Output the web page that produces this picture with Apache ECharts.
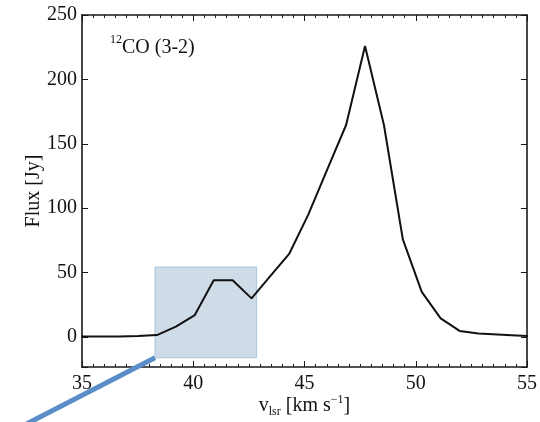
<!DOCTYPE html>
<html>
<head>
<meta charset="utf-8">
<script src="https://cdn.jsdelivr.net/npm/echarts@6/dist/echarts.min.js"></script>
<style>
  html, body { margin: 0; padding: 0; background: #ffffff; }
  #chart { width: 540px; height: 422px; }
</style>
</head>
<body>
<div id="chart"></div>
<script>
// ---- data ----
const velocity = [34.97, 35.82, 36.67, 37.52, 38.37, 39.22, 40.07, 40.92, 41.77, 42.62, 43.47, 44.32, 45.17, 46.02, 46.87, 47.72, 48.57, 49.42, 50.27, 51.12, 51.97, 52.82, 53.67, 54.52, 55.37];
const flux = [0.3, 0.3, 0.4, 0.7, 1.5, 8, 17, 44, 44, 30, 47.5, 64.8, 95, 130, 164.6, 226, 164.6, 75.8, 35, 14.5, 4.7, 2.8, 2.0, 1.2, 0.4];
const xTicks = [35, 40, 45, 50, 55];
const yTicks = [0, 50, 100, 150, 200, 250];
const xRange = [35, 55];
const yRange = [-23.3, 250];
const highlightVelocity = [38.28, 42.85];
const highlightFlux = [-16.1, 54.3];
const pointerFrom = [38.28, -16.1];
const pointerTo = [31.8, -73.8];
const lineLabel = 'CO (3-2)';
const lineIsotope = '12';

const points = velocity.map((v, i) => [v, flux[i]]);
const FONT = 'Liberation Serif';
const AXIS_COLOR = '#1a1a1a';

const chart = echarts.init(document.getElementById('chart'), null, { renderer: 'canvas' });

const baseX = {
  type: 'value',
  min: xRange[0], max: xRange[1], interval: xTicks[1] - xTicks[0],
  axisLine: { show: true, onZero: false, lineStyle: { color: AXIS_COLOR, width: 1.6 } },
  axisTick: { show: true, inside: true, length: 6, lineStyle: { color: AXIS_COLOR, width: 1 } },
  minorTick: { show: true, splitNumber: 10, length: 3, lineStyle: { color: AXIS_COLOR, width: 1 } },
  splitLine: { show: false },
  minorSplitLine: { show: false }
};
const baseY = {
  type: 'value',
  min: yRange[0], max: yRange[1], splitNumber: yTicks.length - 1,
  axisLine: { show: true, onZero: false, lineStyle: { color: AXIS_COLOR, width: 1.6 } },
  axisTick: { show: true, inside: true, length: 6, lineStyle: { color: AXIS_COLOR, width: 1 } },
  splitLine: { show: false }
};

chart.setOption({
  backgroundColor: '#ffffff',
  animation: false,
  title: {
    left: 105, top: 29,
    text: '{sup|' + lineIsotope + '}{a|' + lineLabel + '}',
    textStyle: {
      fontWeight: 'normal',
      rich: {
        a: { fontFamily: FONT, fontSize: 20, fontWeight: 'normal', color: '#111', lineHeight: 24, verticalAlign: 'bottom' },
        sup: { fontFamily: FONT, fontSize: 12, fontWeight: 'normal', color: '#111', lineHeight: 14, verticalAlign: 'top' }
      }
    }
  },
  grid: { left: 82, right: 13, top: 15, bottom: 55, containLabel: false, outerBoundsMode: 'none' },
  xAxis: [
    Object.assign({}, baseX, {
      position: 'bottom',
      axisLabel: { show: true, margin: 7, color: '#111', fontFamily: FONT, fontSize: 20 },
      name: '{a|v}{sub|lsr}{a| [km s}{sup|\u22121}{a|]}',
      nameLocation: 'middle', nameGap: 27, nameMoveOverlap: false,
      nameTextStyle: {
        rich: {
          a: { fontFamily: FONT, fontSize: 20, color: '#111', lineHeight: 24 },
          sub: { fontFamily: FONT, fontSize: 12, color: '#111', lineHeight: 12, verticalAlign: 'bottom' },
          sup: { fontFamily: FONT, fontSize: 12, color: '#111', lineHeight: 12, verticalAlign: 'top' }
        }
      }
    }),
    Object.assign({}, baseX, {
      position: 'top',
      axisLabel: { show: false }
    })
  ],
  yAxis: [
    Object.assign({}, baseY, {
      position: 'left',
      axisLabel: {
        show: true, margin: 5, color: '#111', fontFamily: FONT, fontSize: 20,
        formatter: (v) => (yTicks.indexOf(v) >= 0 ? String(v) : '')
      },
      name: 'Flux [Jy]',
      nameLocation: 'middle', nameGap: 38, nameMoveOverlap: false,
      nameTextStyle: { fontFamily: FONT, fontSize: 20, color: '#111' }
    }),
    Object.assign({}, baseY, {
      position: 'right',
      axisLabel: { show: false }
    })
  ],
  series: [{
    type: 'line',
    xAxisIndex: 0, yAxisIndex: 0,
    data: points,
    showSymbol: false,
    symbol: 'none',
    clip: true,
    lineStyle: { color: '#111', width: 2 },
    z: 3,
    markArea: {
      silent: true,
      itemStyle: { color: '#cfdbe7', borderColor: '#a9c4e0', borderWidth: 1 },
      data: [[
        { xAxis: highlightVelocity[0], yAxis: highlightFlux[1] },
        { xAxis: highlightVelocity[1], yAxis: highlightFlux[0] }
      ]]
    }
  }]
});

const p0 = chart.convertToPixel({ gridIndex: 0 }, pointerFrom);
const p1 = chart.convertToPixel({ gridIndex: 0 }, pointerTo);
chart.setOption({
  graphic: [{
    type: 'line',
    shape: { x1: p0[0], y1: p0[1], x2: p1[0], y2: p1[1] },
    style: { stroke: '#5b8ec8', lineWidth: 5 },
    z: 10
  }]
});
</script>
</body>
</html>
